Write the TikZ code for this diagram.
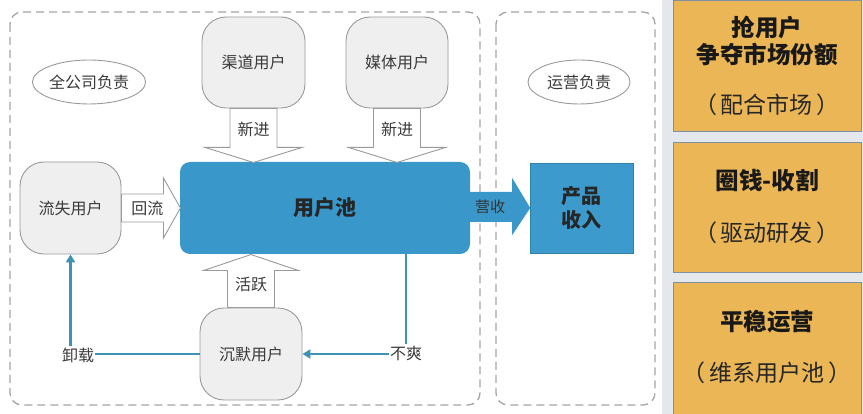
\documentclass[tikz,border=0pt]{standalone}
\usepackage{fontspec}
\setmainfont{Noto Sans CJK SC}
\usetikzlibrary{shapes.geometric,arrows.meta,calc}
\definecolor{boxfill}{HTML}{EFEFEF}
\definecolor{boxline}{HTML}{9A9A9A}
\definecolor{txt}{HTML}{3A3A3A}
\definecolor{poolblue}{HTML}{3A97C9}
\definecolor{prodblue}{HTML}{3C9ACD}
\definecolor{teal}{HTML}{3E93B3}
\definecolor{dashgray}{HTML}{A5A5A5}
\definecolor{orangebox}{HTML}{EBB655}
\definecolor{orangeline}{HTML}{7E90A6}
\definecolor{panel}{HTML}{E4E8EC}
\begin{document}
\begin{tikzpicture}[x=1pt,y=-1pt,
  graybox/.style={draw=boxline, line width=0.9pt, fill=boxfill, rounded corners=24pt,
    text=txt, font=\fontsize{16}{19}\selectfont, inner sep=0pt},
  tagell/.style={draw=boxline, line width=0.9pt, ellipse, fill=white, text=txt,
    font=\fontsize{16}{19}\selectfont, inner sep=0pt, minimum width=102pt, minimum height=44pt},
  lbl/.style={text=txt, font=\fontsize{16}{19}\selectfont, inner sep=1pt},
  blockarrow/.style={draw=boxline, line width=0.9pt, fill=white},
  conn/.style={draw=teal, line width=2.7pt},
  connarrow/.style={conn, -{Triangle[length=8pt,width=9pt]}},
  dashbox/.style={draw=dashgray, line width=1.3pt, dash pattern=on 8pt off 5pt, rounded corners=12pt},
  obox/.style={draw=orangeline, line width=0.9pt, fill=orangebox, inner sep=0pt,
    minimum width=188pt},
  otitle/.style={font=\bfseries\fontsize{23.5}{27}\selectfont, text=black!90, inner sep=0pt},
  osub/.style={font=\fontsize{23}{27}\selectfont, text=black!85, inner sep=0pt}
]
\useasboundingbox (0,0) rectangle (863,414);
\fill[white] (0,0) rectangle (863,414);
\fill[panel] (662,0) rectangle (863,414);

% dashed areas
\draw[dashbox] (10,12) rectangle (480,405);
\draw[dashbox] (496,12) rectangle (655,405);

% ellipses
\node[tagell] (e1) at (89,82) {全公司负责};
\node[tagell] (e2) at (579,82) {运营负责};

% gray boxes
\node[graybox, minimum width=103pt, minimum height=91pt] (ch) at (253.5,62.5) {渠道用户};
\node[graybox, minimum width=102pt, minimum height=91pt] (mt) at (397,62.5) {媒体用户};
\node[graybox, minimum width=101pt, minimum height=92pt] (lost) at (70.5,208) {流失用户};
\node[graybox, minimum width=102pt, minimum height=92pt] (silent) at (251,354) {沉默用户};

% pool
\node[fill=poolblue, rounded corners=10pt, minimum width=290pt, minimum height=92pt,
  font=\bfseries\fontsize{21}{25}\selectfont, text=black!85, inner sep=0pt] (pool) at (325,208) {用户池};

% product
\node[fill=prodblue, draw=poolblue!85!black, line width=0.5pt, minimum width=103pt, minimum height=90pt,
  font=\bfseries\fontsize{20}{24}\selectfont, text=black!85, align=center, inner sep=0pt] (prod) at (581.5,208) {产品\\收入};

% block arrows down
\foreach \src in {ch,mt}{
  \draw[blockarrow] ($(\src.south)+(-23.5,0)$) -- ($(\src.south)+(23.5,0)$) -- ($(\src.south)+(23.5,39)$)
    -- ($(\src.south)+(48.5,39)$) -- ($(\src.south)+(0,54)$) -- ($(\src.south)+(-48.5,39)$)
    -- ($(\src.south)+(-23.5,39)$) -- cycle;
}
\node[lbl] (in1) at ($(ch.south)+(0,21)$) {新进};
\node[lbl] (in2) at ($(mt.south)+(0,21)$) {新进};

% block arrow up
\draw[blockarrow] ($(silent.north)+(-23.5,0)$) -- ($(silent.north)+(23.5,0)$) -- ($(silent.north)+(23.5,-37)$)
  -- ($(silent.north)+(47.5,-37)$) -- ($(silent.north)+(0,-53)$) -- ($(silent.north)+(-47.5,-37)$)
  -- ($(silent.north)+(-23.5,-37)$) -- cycle;
\node[lbl] (act) at ($(silent.north)+(0,-23)$) {活跃};

% block arrow right (back flow)
\draw[blockarrow] ($(lost.east)+(0,-14)$) -- ($(lost.east)+(42,-14)$) -- ($(lost.east)+(42,-30)$)
  -- ($(lost.east)+(59,0)$) -- ($(lost.east)+(42,30)$) -- ($(lost.east)+(42,14)$)
  -- ($(lost.east)+(0,14)$) -- cycle;
\node[lbl] (back) at ($(lost.east)+(26,0)$) {回流};

% revenue arrow
\fill[poolblue] ($(pool.east)+(-2,-16)$) -- ($(pool.east)+(42,-16)$) -- ($(pool.east)+(42,-30)$)
  -- ($(pool.east)+(60,0)$) -- ($(pool.east)+(42,27)$) -- ($(pool.east)+(42,14)$)
  -- ($(pool.east)+(-2,14)$) -- cycle;
\node[text=black!80, font=\fontsize{15}{18}\selectfont, inner sep=0pt] (rev) at ($(pool.east)+(20,-1)$) {营收};

% unhappy / uninstall connectors
\node[lbl] (bs) at (406,353) {不爽};
\node[lbl] (xz) at (78,355) {卸载};
\draw[conn] (pool.south -| bs) -- (bs.north);
\draw[connarrow] (bs.west |- silent.east) -- (silent.east);
\draw[conn] (silent.west) -- (xz.east |- silent.west);
\draw[connarrow] (lost.south |- xz.north) -- (lost.south);

% right panel
\node[obox, minimum height=131pt] (o1) at (767,65.5) {};
\node[obox, minimum height=130pt] (o2) at (767,207) {};
\node[obox, minimum height=132pt] (o3) at (767,348) {};
\node[otitle] (t1a) at (767,28) {抢用户};
\node[otitle] (t1b) at (767,54) {争夺市场份额};
\node[osub] (s1) at (767,105) {（\hspace{4pt}配合市场\hspace{4pt}）};
\node[otitle] (t2) at (767,181) {圈钱-收割};
\node[osub] (s2) at (767,233) {（\hspace{4pt}驱动研发\hspace{4pt}）};
\node[otitle] (t3) at (767,322) {平稳运营};
\node[osub] (s3) at (767,373) {（\hspace{4pt}维系用户池\hspace{4pt}）};
\end{tikzpicture}
\end{document}
